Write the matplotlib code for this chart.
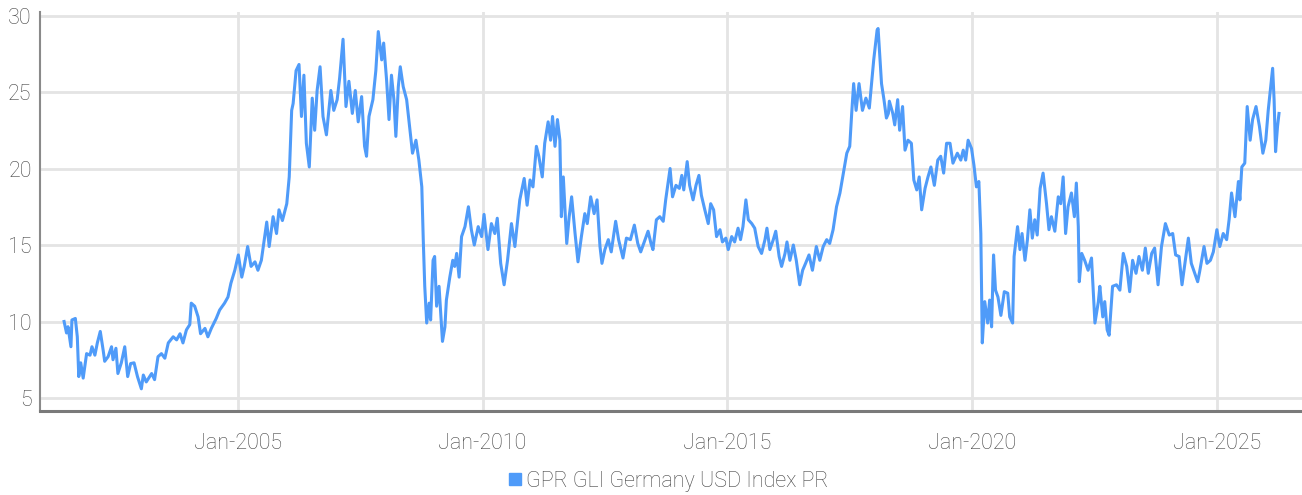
import numpy as np
import pandas as pd
import matplotlib
matplotlib.use("Agg")
import matplotlib.pyplot as plt
import matplotlib.dates as mdates

plt.rcParams['font.family'] = ['Roboto', 'DejaVu Sans']
plt.rcParams['font.weight'] = 'light'

series_name = "GPR GLI Germany USD Index PR"

# decimal years
years = [
    2001.45, 2001.50, 2001.53, 2001.59, 2001.61, 2001.68, 2001.72, 2001.75, 2001.79, 2001.84,
    2001.91, 2001.98, 2002.02, 2002.08, 2002.13, 2002.19, 2002.25, 2002.28, 2002.35, 2002.42,
    2002.45, 2002.51, 2002.55, 2002.62, 2002.69, 2002.75, 2002.81, 2002.88, 2002.95, 2003.03,
    2003.07, 2003.13, 2003.24, 2003.30, 2003.37, 2003.44, 2003.51, 2003.58, 2003.68, 2003.75,
    2003.82, 2003.88, 2003.95, 2004.02, 2004.05, 2004.12, 2004.19, 2004.24, 2004.33, 2004.39,
    2004.46, 2004.56, 2004.63, 2004.73, 2004.80, 2004.86, 2004.94, 2005.01, 2005.08, 2005.13,
    2005.20, 2005.27, 2005.35, 2005.41, 2005.48, 2005.59, 2005.64, 2005.72, 2005.79, 2005.84,
    2005.91, 2006.00, 2006.05, 2006.10, 2006.13, 2006.19, 2006.25, 2006.30, 2006.35, 2006.40,
    2006.46, 2006.52, 2006.57, 2006.62, 2006.68, 2006.74, 2006.81, 2006.90, 2006.96, 2007.03,
    2007.08, 2007.15, 2007.21, 2007.27, 2007.34, 2007.40, 2007.46, 2007.53, 2007.59, 2007.63,
    2007.68, 2007.76, 2007.82, 2007.87, 2007.94, 2007.98, 2008.04, 2008.09, 2008.14, 2008.19,
    2008.23, 2008.28, 2008.32, 2008.38, 2008.45, 2008.51, 2008.57, 2008.64, 2008.70, 2008.76,
    2008.79, 2008.82, 2008.86, 2008.91, 2008.94, 2008.99, 2009.02, 2009.06, 2009.11, 2009.18,
    2009.23, 2009.26, 2009.33, 2009.39, 2009.43, 2009.47, 2009.52, 2009.57, 2009.64, 2009.71,
    2009.77, 2009.83, 2009.91, 2009.98, 2010.03, 2010.11, 2010.18, 2010.25, 2010.30, 2010.37,
    2010.44, 2010.51, 2010.59, 2010.66, 2010.76, 2010.85, 2010.91, 2010.97, 2011.03, 2011.10,
    2011.15, 2011.22, 2011.27, 2011.34, 2011.39, 2011.43, 2011.48, 2011.53, 2011.58, 2011.61,
    2011.65, 2011.72, 2011.77, 2011.82, 2011.89, 2011.95, 2012.02, 2012.09, 2012.14, 2012.21,
    2012.28, 2012.34, 2012.40, 2012.44, 2012.50, 2012.57, 2012.63, 2012.72, 2012.78, 2012.87,
    2012.94, 2013.02, 2013.10, 2013.17, 2013.23, 2013.32, 2013.38, 2013.44, 2013.48, 2013.55,
    2013.62, 2013.69, 2013.74, 2013.83, 2013.88, 2013.95, 2014.02, 2014.07, 2014.11, 2014.18,
    2014.23, 2014.30, 2014.36, 2014.42, 2014.47, 2014.54, 2014.61, 2014.66, 2014.72, 2014.78,
    2014.85, 2014.90, 2014.97, 2015.02, 2015.09, 2015.15, 2015.22, 2015.27, 2015.32, 2015.38,
    2015.43, 2015.50, 2015.56, 2015.63, 2015.70, 2015.77, 2015.81, 2015.87, 2015.94, 2015.99,
    2016.06, 2016.11, 2016.18, 2016.22, 2016.28, 2016.35, 2016.41, 2016.48, 2016.54, 2016.60,
    2016.67, 2016.74, 2016.82, 2016.89, 2016.96, 2017.03, 2017.09, 2017.16, 2017.23, 2017.30,
    2017.37, 2017.44, 2017.50, 2017.54, 2017.58, 2017.63, 2017.69, 2017.76, 2017.83, 2017.90,
    2017.95, 2017.99, 2018.06, 2018.08, 2018.15, 2018.20, 2018.25, 2018.29, 2018.31, 2018.38,
    2018.42, 2018.48, 2018.52, 2018.58, 2018.63, 2018.69, 2018.76, 2018.81, 2018.87, 2018.92,
    2018.97, 2019.04, 2019.10, 2019.16, 2019.23, 2019.30, 2019.36, 2019.42, 2019.48, 2019.55,
    2019.61, 2019.70, 2019.77, 2019.82, 2019.87, 2019.92, 2019.99, 2020.04, 2020.09, 2020.14,
    2020.18, 2020.21, 2020.26, 2020.32, 2020.36, 2020.40, 2020.44, 2020.48, 2020.53, 2020.59,
    2020.66, 2020.73, 2020.77, 2020.83, 2020.86, 2020.93, 2020.98, 2021.02, 2021.08, 2021.13,
    2021.18, 2021.23, 2021.28, 2021.33, 2021.39, 2021.45, 2021.52, 2021.57, 2021.62, 2021.69,
    2021.76, 2021.81, 2021.86, 2021.91, 2021.96, 2022.03, 2022.09, 2022.13, 2022.17, 2022.19,
    2022.24, 2022.30, 2022.37, 2022.44, 2022.51, 2022.58, 2022.61, 2022.67, 2022.71, 2022.76,
    2022.80, 2022.87, 2022.95, 2023.02, 2023.09, 2023.16, 2023.22, 2023.28, 2023.35, 2023.41,
    2023.48, 2023.54, 2023.60, 2023.67, 2023.73, 2023.80, 2023.87, 2023.95, 2024.03, 2024.10,
    2024.16, 2024.23, 2024.29, 2024.35, 2024.42, 2024.48, 2024.55, 2024.61, 2024.65, 2024.74,
    2024.80, 2024.87, 2024.93, 2025.00, 2025.06, 2025.13, 2025.20, 2025.25, 2025.30, 2025.37,
    2025.44, 2025.47, 2025.51, 2025.57, 2025.62, 2025.68, 2025.73, 2025.80, 2025.87, 2025.94,
    2026.00, 2026.05, 2026.10, 2026.14, 2026.17, 2026.20, 2026.24, 2026.27,
]

values = [
    10.0, 9.25, 9.66, 8.35, 10.1, 10.2, 9.0, 6.4, 7.3, 6.3,
    7.9, 7.8, 8.35, 7.8, 8.6, 9.35, 8.1, 7.4, 7.7, 8.35,
    7.5, 8.25, 6.6, 7.3, 8.35, 6.4, 7.25, 7.3, 6.4, 5.6,
    6.5, 6.05, 6.6, 6.2, 7.7, 7.9, 7.6, 8.6, 9.0, 8.8,
    9.2, 8.6, 9.45, 9.8, 11.2, 11.0, 10.3, 9.2, 9.55, 9.0,
    9.55, 10.2, 10.75, 11.2, 11.6, 12.5, 13.35, 14.35, 12.9, 13.6,
    14.9, 13.6, 13.9, 13.35, 14.0, 16.5, 14.9, 16.85, 15.75, 17.3,
    16.6, 17.7, 19.45, 23.8, 24.25, 26.4, 26.8, 23.4, 26.1, 21.65,
    20.1, 24.6, 22.5, 25.1, 26.65, 23.4, 22.2, 25.1, 23.8, 24.5,
    25.9, 28.45, 24.05, 25.7, 23.6, 25.1, 23.05, 24.7, 21.45, 20.8,
    23.4, 24.5, 26.4, 28.95, 27.1, 28.2, 25.8, 23.2, 26.1, 24.5,
    22.1, 25.35, 26.65, 25.35, 24.5, 22.75, 21.0, 21.85, 20.55, 18.8,
    15.3, 12.3, 9.9, 11.2, 10.1, 14.0, 14.25, 11.0, 12.3, 8.7,
    9.65, 11.4, 12.9, 14.0, 13.6, 14.45, 12.9, 15.55, 16.2, 17.5,
    16.0, 15.0, 16.2, 15.55, 17.0, 14.7, 16.4, 15.75, 16.75, 13.8,
    12.4, 14.0, 16.4, 14.9, 17.95, 19.35, 17.6, 19.25, 18.8, 21.45,
    20.8, 19.45, 21.65, 23.05, 21.85, 23.4, 21.45, 23.2, 21.85, 16.85,
    19.45, 15.1, 16.85, 18.15, 15.75, 13.9, 15.55, 17.05, 16.4, 18.15,
    17.05, 17.95, 14.9, 13.8, 14.7, 15.35, 14.55, 16.55, 15.35, 14.15,
    15.45, 15.35, 16.3, 15.1, 14.55, 15.35, 15.9, 15.1, 14.7, 16.65,
    16.85, 16.55, 17.95, 20.0, 18.15, 18.9, 18.7, 19.55, 18.6, 20.45,
    18.9, 17.95, 18.9, 19.55, 18.25, 17.3, 16.4, 17.7, 17.3, 15.55,
    16.0, 15.2, 15.45, 14.7, 15.55, 15.2, 16.1, 15.35, 16.2, 17.95,
    16.65, 16.4, 16.1, 14.9, 14.45, 15.35, 16.1, 14.7, 15.35, 15.9,
    14.25, 13.6, 14.45, 15.2, 14.0, 15.0, 14.0, 12.4, 13.35, 13.8,
    14.35, 13.35, 14.9, 14.0, 14.9, 15.35, 15.1, 16.0, 17.5, 18.4,
    19.7, 21.0, 21.45, 23.6, 25.55, 23.8, 25.55, 23.8, 24.6, 23.95,
    25.7, 27.1, 29.05, 29.15, 25.55, 24.5, 23.3, 23.6, 24.4, 23.6,
    22.85, 24.5, 22.5, 24.05, 21.2, 21.85, 21.65, 19.25, 18.6, 19.45,
    17.3, 18.7, 19.45, 20.1, 18.9, 20.55, 20.8, 19.7, 21.65, 21.65,
    20.35, 21.0, 20.55, 21.2, 20.55, 21.85, 21.3, 20.2, 18.8, 19.15,
    15.75, 8.6, 11.3, 9.9, 11.4, 9.65, 14.35, 12.05, 11.6, 10.4,
    11.95, 11.85, 10.3, 9.9, 14.25, 16.2, 14.7, 15.75, 14.0, 15.35,
    17.3, 15.45, 16.65, 15.65, 18.7, 19.7, 17.7, 16.0, 16.85, 15.9,
    18.15, 17.7, 19.45, 15.75, 17.5, 18.4, 16.85, 19.05, 16.2, 12.6,
    14.45, 14.0, 13.35, 14.15, 9.9, 11.3, 12.3, 10.3, 11.3, 9.45,
    9.1, 12.3, 12.4, 12.05, 14.45, 13.6, 11.95, 14.0, 13.15, 14.25,
    13.35, 14.8, 13.15, 14.45, 14.8, 12.4, 14.9, 16.4, 15.65, 15.75,
    14.35, 14.25, 12.4, 13.8, 15.45, 13.8, 13.15, 12.6, 13.25, 14.9,
    13.8, 14.0, 14.55, 16.0, 14.9, 15.75, 15.35, 16.65, 18.4, 16.85,
    19.15, 17.95, 20.1, 20.35, 24.05, 21.85, 23.2, 24.05, 22.75, 21.0,
    21.85, 23.8, 25.35, 26.55, 24.5, 21.1, 22.75, 23.6,
]

y_ticks = [5, 10, 15, 20, 25, 30]


def to_date(y):
    yr = int(y)
    start = pd.Timestamp(year=yr, month=1, day=1)
    return start + pd.Timedelta(days=(y - yr) * 365.25)


dates = [to_date(y) for y in years]

line_color = "#4f9bf9"
text_color = "#444444"

fig = plt.figure(figsize=(13.02, 4.95), dpi=100)
ax = fig.add_axes([40 / 1302, 84 / 495, 1262 / 1302, 399 / 495])

ax.plot(dates, values, color=line_color, lw=2.2, zorder=3, solid_joinstyle="round")

ax.set_xlim(to_date(2000.96), to_date(2026.74))
ax.set_ylim(4.15, 30.23)
ax.set_yticks(y_ticks)
ax.xaxis.set_major_locator(mdates.YearLocator(5, month=1, day=1))
ax.xaxis.set_major_formatter(mdates.DateFormatter("%b-%Y"))

ax.grid(True, color="#e4e4e4", lw=2, zorder=0)
ax.set_axisbelow(True)
ax.tick_params(axis="both", length=0, labelsize=15.5, labelcolor=text_color)
ax.tick_params(axis="x", pad=16)
ax.tick_params(axis="y", pad=6)

for side in ["top", "right"]:
    ax.spines[side].set_visible(False)
ax.spines["left"].set_color("#8a8a8a")
ax.spines["left"].set_linewidth(1.5)
ax.spines["bottom"].set_color("#7a7a7a")
ax.spines["bottom"].set_linewidth(2.2)

handle = plt.Line2D([], [], marker="s", ls="none", color=line_color, markersize=9)
fig.legend([handle], [series_name], loc="center", bbox_to_anchor=(667 / 1302, 1 - 481 / 495),
           frameon=False, fontsize=15.5, labelcolor=text_color, handletextpad=0.1,
           handlelength=0.8)

fig.savefig("out.png", dpi=100)
